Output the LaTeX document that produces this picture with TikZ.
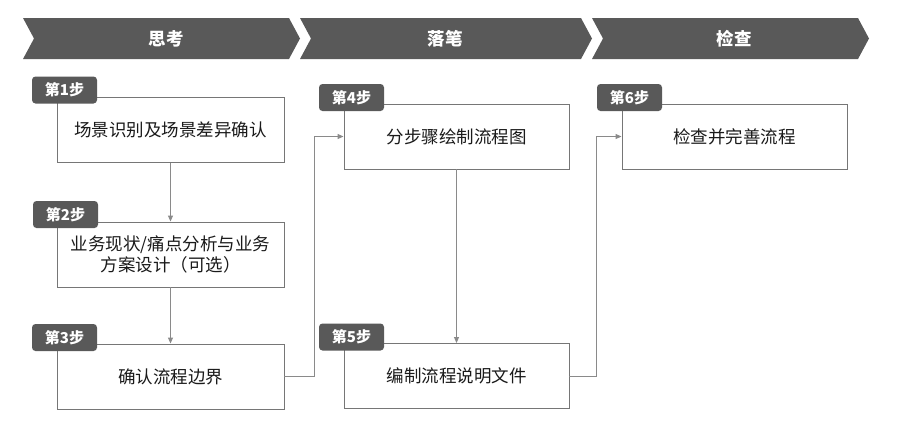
\documentclass[tikz,border=0pt]{standalone}
\usepackage{fontspec}
\setmainfont{Noto Sans CJK SC}
\usetikzlibrary{arrows.meta}
\definecolor{dk}{HTML}{595959}
\definecolor{bd}{HTML}{767676}
\definecolor{ln}{HTML}{8A8A8A}
\definecolor{tx}{HTML}{1A1A1A}
\begin{document}
\begin{tikzpicture}[x=1pt,y=-1pt,
  box/.style={draw=bd,line width=0.9pt,fill=white,minimum height=65pt,inner sep=0pt,align=center,font=\fontsize{17.5}{20.5}\selectfont,text=tx},
  tag/.style={fill=dk,rounded corners=3.5pt,minimum width=65pt,minimum height=27pt,inner sep=0pt,text=white,font=\bfseries\fontsize{15}{17}\selectfont},
  conn/.style={draw=ln,line width=0.9pt,-{Triangle[length=6pt,width=5pt]}},
  phase/.style={text=white,font=\bfseries\fontsize{17.5}{19}\selectfont}]
\useasboundingbox (0,0) rectangle (921,421);
% chevrons
\fill[dk] (23,18) -- (289,18) -- (300,38.5) -- (289,59) -- (23,59) -- (34,38.5) -- cycle;
\fill[dk] (300,18) -- (581,18) -- (592,38.5) -- (581,59) -- (300,59) -- (311,38.5) -- cycle;
\fill[dk] (592,18) -- (858,18) -- (869,38.5) -- (858,59) -- (592,59) -- (603,38.5) -- cycle;
\node[phase] (p1) at (166,38.5) {思考};
\node[phase] (p2) at (445,38.5) {落笔};
\node[phase] (p3) at (734,38.5) {检查};
% boxes
\node[box,minimum width=227pt] (b1) at (170.5,130) {场景识别及场景差异确认};
\node[box,minimum width=227pt] (b2) at (170.5,254.5) {业务现状/痛点分析与业务\\方案设计（可选）};
\node[box,minimum width=227pt] (b3) at (170.5,376.5) {确认流程边界};
\node[box,minimum width=225pt] (b4) at (456.5,136.5) {分步骤绘制流程图};
\node[box,minimum width=225pt] (b5) at (456.5,376) {编制流程说明文件};
\node[box,minimum width=225pt] (b6) at (734.5,136.5) {检查并完善流程};
% tags
\node[tag] (t1) at (64.5,90) {第1步};
\node[tag] (t2) at (65.5,214.5) {第2步};
\node[tag] (t3) at (64.5,337.5) {第3步};
\node[tag] (t4) at (351.5,97.5) {第4步};
\node[tag] (t5) at (351.5,337) {第5步};
\node[tag] (t6) at (629.5,97.5) {第6步};
% connectors
\draw[conn] (b1) -- (b2);
\draw[conn] (b2) -- (b3);
\draw[conn] (b4) -- (b5);
\draw[conn] (b3.east) -- ++(30,0) |- (b4.west);
\draw[conn] (b5.east) -- ++(27,0) |- (b6.west);
\end{tikzpicture}
\end{document}
